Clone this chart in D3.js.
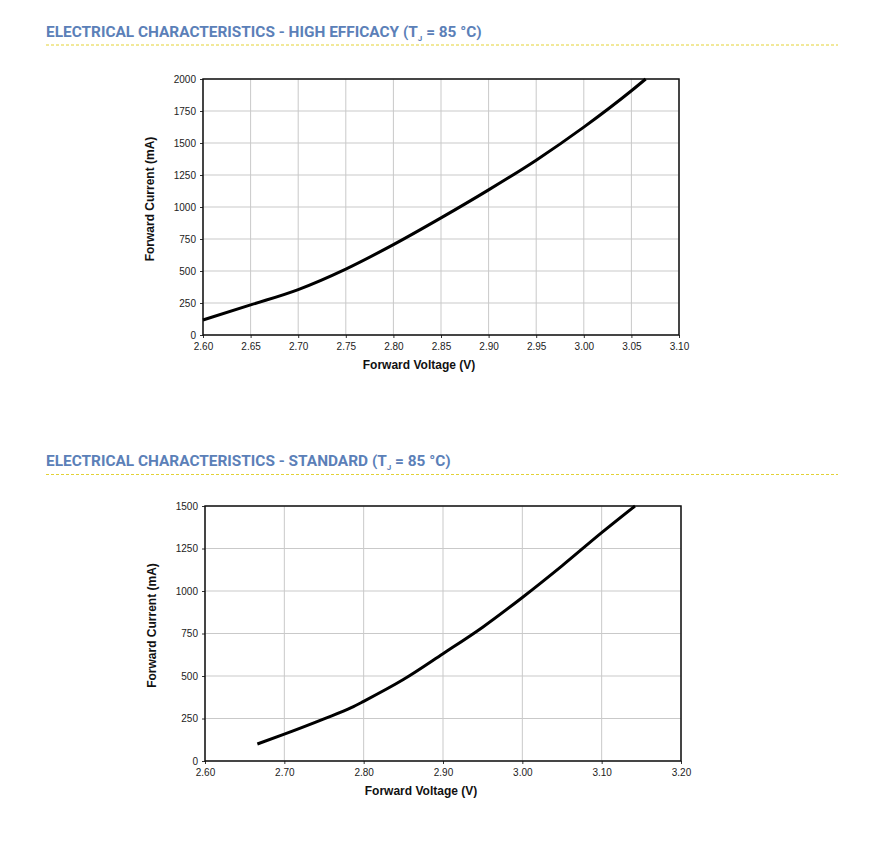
<!DOCTYPE html>
<html>
<head>
<meta charset="utf-8">
<script src="https://cdn.jsdelivr.net/npm/d3@7"></script>
<style>
  body { margin: 0; background: #fff; }
  svg { display: block; }
  .tick text { font-family: Arial, "Liberation Sans", sans-serif; font-size: 10px; fill: #222; }
</style>
</head>
<body>
<div id="chart"></div>
<script>
// high efficacy curve, Tj = 85 C
var heVoltage = [2.60, 2.65, 2.70, 2.75, 2.80, 2.85, 2.90, 2.95, 3.00, 3.05, 3.065];
var heCurrent = [117, 235, 355, 515, 706, 915, 1134, 1366, 1624, 1908, 2000];
var heXTicks = [2.60, 2.65, 2.70, 2.75, 2.80, 2.85, 2.90, 2.95, 3.00, 3.05, 3.10];
var heYTicks = [0, 250, 500, 750, 1000, 1250, 1500, 1750, 2000];

// standard curve, Tj = 85 C
var stVoltage = [2.666, 2.70, 2.75, 2.785, 2.80, 2.85, 2.90, 2.95, 3.00, 3.05, 3.10, 3.142];
var stCurrent = [100, 158, 248, 315, 351, 479, 631, 787, 962, 1148, 1343, 1500];
var stXTicks = [2.60, 2.70, 2.80, 2.90, 3.00, 3.10, 3.20];
var stYTicks = [0, 250, 500, 750, 1000, 1250, 1500];

var W = 885, H = 867;
var svg = d3.select("#chart").append("svg")
  .attr("width", W)
  .attr("height", H);

function drawTitle(y, main) {
  var t = svg.append("text")
    .attr("x", 46)
    .attr("y", y)
    .style("font-family", "Roboto, 'Noto Sans', sans-serif")
    .style("font-weight", "bold")
    .style("font-size", "15.4px")
    .style("fill", "#5b80b8");
  t.append("tspan").text(main + " (T");
  t.append("tspan").attr("dy", 4).style("font-size", "8px").text("J");
  t.append("tspan").attr("dy", -4).text(" = 85 °C)");

  svg.append("line")
    .attr("x1", 46).attr("x2", 838)
    .attr("y1", y + 8.5).attr("y2", y + 8.5)
    .attr("stroke", "#e3d235")
    .attr("stroke-width", 1)
    .attr("stroke-dasharray", "3,2");
}

function drawChart(box, xDom, xTicks, yDom, yTicks, volts, amps) {
  var g = svg.append("g")
    .attr("transform", "translate(" + box.left + "," + box.top + ")");

  var x = d3.scaleLinear().domain(xDom).range([0, box.width]);
  var y = d3.scaleLinear().domain(yDom).range([box.height, 0]);

  // grid
  g.selectAll("vgrid")
    .data(xTicks)
    .enter()
    .append("line")
      .attr("x1", function(d) { return x(d); })
      .attr("x2", function(d) { return x(d); })
      .attr("y1", 0)
      .attr("y2", box.height)
      .attr("stroke", "#c9c9c9")
      .attr("stroke-width", 1);
  g.selectAll("hgrid")
    .data(yTicks)
    .enter()
    .append("line")
      .attr("x1", 0)
      .attr("x2", box.width)
      .attr("y1", function(d) { return y(d); })
      .attr("y2", function(d) { return y(d); })
      .attr("stroke", "#c9c9c9")
      .attr("stroke-width", 1);

  // axes
  var xAxis = g.append("g")
    .attr("transform", "translate(0," + box.height + ")")
    .call(d3.axisBottom(x).tickValues(xTicks).tickFormat(d3.format(".2f")).tickSize(3).tickPadding(5));
  var yAxis = g.append("g")
    .call(d3.axisLeft(y).tickValues(yTicks).tickFormat(d3.format("d")).tickSize(3).tickPadding(4));
  [xAxis, yAxis].forEach(function(a) {
    a.select(".domain").remove();
    a.selectAll(".tick line").attr("stroke", "#333");
  });

  // frame
  g.append("rect")
    .attr("width", box.width)
    .attr("height", box.height)
    .attr("fill", "none")
    .attr("stroke", "#111")
    .attr("stroke-width", 1.5);

  // curve
  var pts = volts.map(function(v, i) { return [v, amps[i]]; });
  g.append("path")
    .datum(pts)
    .attr("fill", "none")
    .attr("stroke", "#000")
    .attr("stroke-width", 3)
    .attr("stroke-linejoin", "round")
    .attr("d", d3.line()
      .x(function(d) { return x(d[0]); })
      .y(function(d) { return y(d[1]); })
      .curve(d3.curveMonotoneX));

  // labels
  g.append("text")
    .attr("x", box.width / 2 - 22)
    .attr("y", box.height + 34)
    .attr("text-anchor", "middle")
    .style("font-family", "Arial, 'Liberation Sans', sans-serif")
    .style("font-weight", "bold")
    .style("font-size", "12px")
    .style("fill", "#111")
    .text("Forward Voltage (V)");
  g.append("text")
    .attr("transform", "translate(" + (-49) + "," + (box.height / 2 - 8) + ") rotate(-90)")
    .attr("text-anchor", "middle")
    .style("font-family", "Arial, 'Liberation Sans', sans-serif")
    .style("font-weight", "bold")
    .style("font-size", "12px")
    .style("fill", "#111")
    .text("Forward Current (mA)");
}

drawTitle(36.5, "ELECTRICAL CHARACTERISTICS - HIGH EFFICACY");
drawChart({left: 203, top: 79, width: 476, height: 256},
  [2.60, 3.10], heXTicks, [0, 2000], heYTicks, heVoltage, heCurrent);

drawTitle(466, "ELECTRICAL CHARACTERISTICS - STANDARD");
drawChart({left: 205, top: 506, width: 476, height: 255},
  [2.60, 3.20], stXTicks, [0, 1500], stYTicks, stVoltage, stCurrent);
</script>
</body>
</html>
